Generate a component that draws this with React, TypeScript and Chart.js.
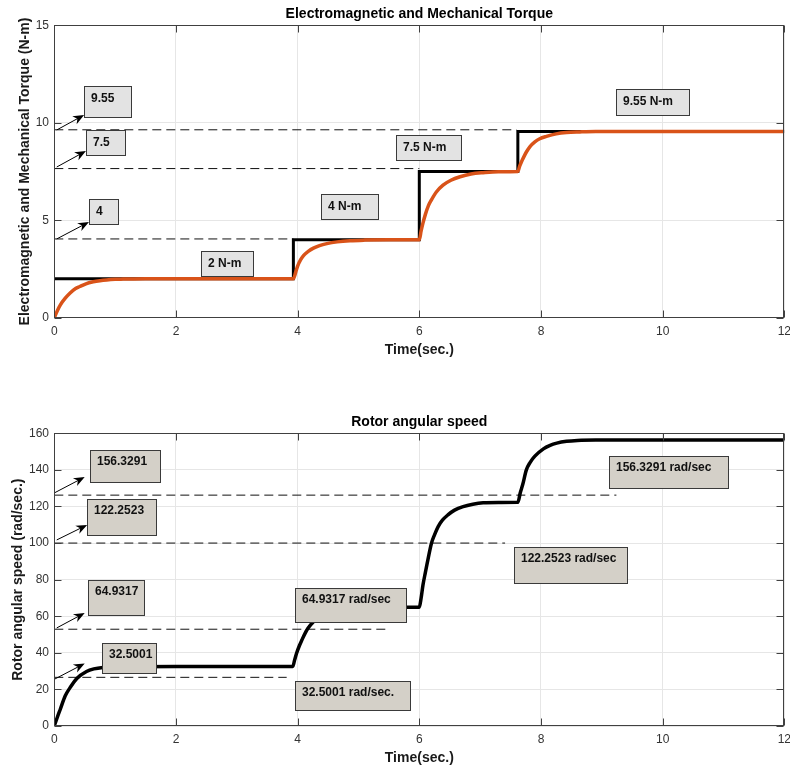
import React, { useEffect, useRef } from "react";
import { Chart, registerables } from "chart.js";

Chart.register(...registerables);

// ---------------- data ----------------
const timeTicks = [0, 2, 4, 6, 8, 10, 12];
const torqueTicks = [0, 5, 10, 15];
const speedTicks = [0, 20, 40, 60, 80, 100, 120, 140, 160];

// mechanical (load) torque, step profile
const mechTime = [0, 3.93, 3.93, 6.0, 6.0, 7.62, 7.62, 12];
const mechTorque = [2, 2, 4, 4, 7.5, 7.5, 9.55, 9.55];

// electromagnetic torque
const emTime = [
  0, 0.05, 0.1, 0.18, 0.26, 0.35, 0.42, 0.52, 0.64, 0.75, 0.86, 1.0, 1.13, 1.5, 2.5, 3.93,
  3.97, 4.0, 4.05, 4.1, 4.18, 4.26, 4.36, 4.48, 4.65, 4.86, 5.1, 5.5, 6.0,
  6.03, 6.06, 6.1, 6.15, 6.2, 6.28, 6.39, 6.52, 6.67, 6.85, 7.05, 7.3, 7.62,
  7.65, 7.68, 7.71, 7.76, 7.82, 7.9, 7.98, 8.09, 8.25, 8.42, 8.64, 8.9, 12,
];
const emTorque = [
  0, 0.36, 0.66, 1.0, 1.27, 1.5, 1.6, 1.74, 1.84, 1.9, 1.94, 1.97, 1.98, 2.0, 2.0, 2.0,
  2.35, 2.65, 2.98, 3.2, 3.42, 3.57, 3.7, 3.8, 3.89, 3.95, 3.98, 4.0, 4.0,
  4.45, 4.85, 5.3, 5.75, 6.05, 6.45, 6.8, 7.05, 7.23, 7.37, 7.44, 7.49, 7.5,
  7.78, 8.0, 8.2, 8.5, 8.78, 9.02, 9.18, 9.3, 9.43, 9.5, 9.53, 9.55, 9.55,
];

// rotor angular speed
const speedTime = [
  0, 0.05, 0.1, 0.18, 0.26, 0.37, 0.53, 0.65, 0.8, 1.0, 1.3, 2.0, 3.92,
  3.95, 3.98, 4.03, 4.07, 4.12, 4.17, 4.26, 4.36, 4.5, 4.7, 5.0, 5.5, 6.0,
  6.03, 6.06, 6.1, 6.13, 6.2, 6.25, 6.31, 6.38, 6.47, 6.58, 6.72, 6.88, 7.05, 7.3, 7.62,
  7.66, 7.7, 7.76, 7.82, 7.9, 8.04, 8.15, 8.26, 8.42, 8.6, 8.9, 12,
];
const speedValue = [
  0, 4.8, 9.3, 16.5, 21, 26, 29.8, 31.2, 32, 32.3, 32.45, 32.5, 32.5,
  36, 39.5, 44, 47, 50.5, 53.4, 57, 59.8, 62.3, 64, 64.8, 64.93, 64.93,
  70, 77, 84, 89, 99.9, 104.5, 109, 112.5, 115.4, 118, 119.9, 121.2, 122, 122.2, 122.25,
  127.5, 132, 140, 144, 147.5, 151.5, 153.4, 154.6, 155.6, 156.1, 156.3, 156.33,
];

// dashed reference lines (level, end time)
const torqueRefLevel = [9.64, 7.65, 4.04];
const torqueRefEnd = [7.6, 6.0, 3.93];
const speedRefLevel = [126.2, 100, 52.9, 26.6];
const speedRefEnd = [9.24, 7.41, 5.48, 3.82];

// annotation arrows (data coords)
const torqueArrowT0 = [0.04, 0.04, 0.04];
const torqueArrowV0 = [9.63, 7.73, 4.04];
const torqueArrowT1 = [0.49, 0.52, 0.57];
const torqueArrowV1 = [10.4, 8.55, 4.91];

const speedArrowT0 = [0.0, 0.04, 0.04, 0.01];
const speedArrowV0 = [127.4, 101.7, 53.6, 25.7];
const speedArrowT1 = [0.5, 0.54, 0.5, 0.5];
const speedArrowV1 = [136.1, 109.9, 61.8, 34.2];

// annotation text boxes (data coords: left, right, top, bottom)
const torqueBoxText = ["9.55", "7.5", "4", "2 N-m", "4 N-m", "7.5 N-m", "9.55 N-m"];
const torqueBoxT0 = [0.49, 0.52, 0.57, 2.41, 4.38, 5.62, 9.23];
const torqueBoxT1 = [1.26, 1.16, 1.05, 3.27, 5.32, 6.68, 10.43];
const torqueBoxVTop = [11.88, 9.63, 6.09, 3.42, 6.34, 9.37, 11.72];
const torqueBoxVBot = [10.29, 8.34, 4.81, 2.14, 5.06, 8.09, 10.4];

const speedBoxText = [
  "156.3291", "122.2523", "64.9317", "32.5001",
  "64.9317 rad/sec", "32.5001 rad/sec.", "122.2523 rad/sec", "156.3291 rad/sec",
];
const speedBoxT0 = [0.587, 0.54, 0.554, 0.784, 3.955, 3.955, 7.555, 9.116];
const speedBoxT1 = [1.74, 1.67, 1.474, 1.671, 5.775, 5.846, 9.41, 11.07];
const speedBoxVTop = [150.9, 124.1, 79.8, 45.4, 75.5, 24.6, 97.9, 147.6];
const speedBoxVBot = [133.4, 104.4, 60.7, 29.0, 56.9, 8.8, 78.2, 130.1];

// ---------------- helpers ----------------
const FONT = "'Liberation Sans', Arial, Helvetica, sans-serif";

const pts = (xs: number[], ys: number[]) => xs.map((x, i) => ({ x, y: ys[i] }));

function annotationPlugin(spec: {
  boxText: string[]; boxT0: number[]; boxT1: number[]; boxVTop: number[]; boxVBot: number[];
  arrT0: number[]; arrV0: number[]; arrT1: number[]; arrV1: number[];
  boxFill: string; textOffset: number; xTicks: number[]; yTicks: number[];
}) {
  return {
    id: "matlabAnnotations",
    afterDatasetsDraw(chart: any) {
      const { ctx } = chart;
      const xs = chart.scales.x;
      const ys = chart.scales.y;
      ctx.save();
      // arrows
      spec.arrT0.forEach((_, i) => {
        const x0 = xs.getPixelForValue(spec.arrT0[i]);
        const y0 = ys.getPixelForValue(spec.arrV0[i]);
        const x1 = xs.getPixelForValue(spec.arrT1[i]);
        const y1 = ys.getPixelForValue(spec.arrV1[i]);
        const ang = Math.atan2(y1 - y0, x1 - x0);
        const hl = 11, hw = 4.5;
        ctx.strokeStyle = "#000";
        ctx.lineWidth = 1;
        ctx.beginPath();
        ctx.moveTo(x0, y0);
        ctx.lineTo(x1 - Math.cos(ang) * hl * 0.6, y1 - Math.sin(ang) * hl * 0.6);
        ctx.stroke();
        ctx.fillStyle = "#000";
        ctx.beginPath();
        ctx.moveTo(x1, y1);
        const bx = x1 - Math.cos(ang) * hl, by = y1 - Math.sin(ang) * hl;
        ctx.lineTo(bx + Math.sin(ang) * hw, by - Math.cos(ang) * hw);
        ctx.lineTo(x1 - Math.cos(ang) * hl * 0.7, y1 - Math.sin(ang) * hl * 0.7);
        ctx.lineTo(bx - Math.sin(ang) * hw, by + Math.cos(ang) * hw);
        ctx.closePath();
        ctx.fill();
      });
      // boxes
      spec.boxText.forEach((txt, i) => {
        const l = Math.round(xs.getPixelForValue(spec.boxT0[i])) + 0.5;
        const r = Math.round(xs.getPixelForValue(spec.boxT1[i])) + 0.5;
        const t = Math.round(ys.getPixelForValue(spec.boxVTop[i])) + 0.5;
        const b = Math.round(ys.getPixelForValue(spec.boxVBot[i])) + 0.5;
        ctx.fillStyle = spec.boxFill;
        ctx.fillRect(l, t, r - l, b - t);
        ctx.strokeStyle = "#3a3a3a";
        ctx.lineWidth = 1;
        ctx.strokeRect(l, t, r - l, b - t);
        ctx.fillStyle = "#111";
        ctx.font = `bold 12px ${FONT}`;
        ctx.textAlign = "left";
        ctx.textBaseline = "middle";
        ctx.fillText(txt, l + 6.5, t + spec.textOffset);
      });
      ctx.restore();
    },
    afterDraw(chart: any) {
      const { ctx, chartArea: a } = chart;
      const xs = chart.scales.x;
      const ys = chart.scales.y;
      ctx.save();
      ctx.strokeStyle = "#404040";
      ctx.lineWidth = 1;
      const L = Math.round(a.left) + 0.5, R = Math.round(a.right) - 0.5;
      const T = Math.round(a.top) + 0.5, B = Math.round(a.bottom) - 0.5;
      ctx.strokeRect(L, T, R - L, B - T);
      const tl = 7;
      ctx.beginPath();
      spec.xTicks.forEach((v) => {
        const px = Math.round(xs.getPixelForValue(v)) + 0.5;
        ctx.moveTo(px, B); ctx.lineTo(px, B - tl);
        ctx.moveTo(px, T); ctx.lineTo(px, T + tl);
      });
      spec.yTicks.forEach((v) => {
        const py = Math.round(ys.getPixelForValue(v)) + 0.5;
        ctx.moveTo(L, py); ctx.lineTo(L + tl, py);
        ctx.moveTo(R, py); ctx.lineTo(R - tl, py);
      });
      ctx.stroke();
      ctx.restore();
    },
  };
}

function baseOptions(p: {
  title: string; titlePadTop: number; titlePadBottom: number;
  yMax: number; yTicks: number[]; yTitle: string; yTitlePad: number;
  xHeight: number; xTitlePadBottom: number;
}) {
  return {
    responsive: false,
    animation: false,
    layout: { padding: 0 },
    plugins: {
      legend: { display: false },
      tooltip: { enabled: false },
      title: {
        display: true,
        text: p.title,
        fullSize: false,
        color: "#000",
        font: { family: FONT, size: 14, weight: "bold" },
        padding: { top: p.titlePadTop, bottom: p.titlePadBottom },
      },
    },
    scales: {
      x: {
        type: "linear",
        min: 0,
        max: 12,
        afterBuildTicks: (s: any) => { s.ticks = timeTicks.map((v) => ({ value: v })); },
        grid: { color: "#e6e6e6", drawTicks: false, lineWidth: 1 },
        border: { display: false },
        ticks: { padding: 6.8, color: "#333", font: { family: FONT, size: 12 }, maxRotation: 0, autoSkip: false },
        title: {
          display: true, text: "Time(sec.)", color: "#1a1a1a",
          font: { family: FONT, size: 14, weight: "bold" },
          padding: { top: 0, bottom: p.xTitlePadBottom },
        },
        afterFit: (s: any) => { s.height = p.xHeight; s.paddingRight = 5.7; s.paddingLeft = 0; },
      },
      y: {
        type: "linear",
        min: 0,
        max: p.yMax,
        afterBuildTicks: (s: any) => { s.ticks = p.yTicks.map((v) => ({ value: v })); },
        grid: { color: "#e6e6e6", drawTicks: false, lineWidth: 1 },
        border: { display: false },
        ticks: { padding: 5.3, color: "#333", font: { family: FONT, size: 12 }, autoSkip: false },
        title: {
          display: true, text: p.yTitle, color: "#1a1a1a",
          font: { family: FONT, size: 14, weight: "bold" },
          padding: { top: p.yTitlePad, bottom: 0 },
        },
        afterFit: (s: any) => { s.width = 54.3; s.paddingTop = 0; s.paddingBottom = 0; },
      },
    },
  };
}

const dashedSet = (level: number, end: number) => ({
  data: [{ x: 0, y: level }, { x: end, y: level }],
  borderColor: "#111",
  borderWidth: 1,
  borderDash: [9, 5],
  pointRadius: 0,
  tension: 0,
});

export default function App() {
  const topRef = useRef<HTMLCanvasElement | null>(null);
  const botRef = useRef<HTMLCanvasElement | null>(null);

  useEffect(() => {
    const top = new Chart(topRef.current as HTMLCanvasElement, {
      type: "line",
      data: {
        datasets: [
          {
            data: pts(emTime, emTorque),
            borderColor: "#D95319",
            borderWidth: 3.5,
            pointRadius: 0,
            cubicInterpolationMode: "monotone",
          },
          {
            data: pts(mechTime, mechTorque),
            borderColor: "#000",
            borderWidth: 3,
            pointRadius: 0,
            tension: 0,
          },
          ...torqueRefLevel.map((lv, i) => dashedSet(lv, torqueRefEnd[i])),
        ] as any,
      },
      options: baseOptions({
        title: "Electromagnetic and Mechanical Torque",
        titlePadTop: 5.6, titlePadBottom: 2.9,
        yMax: 15, yTicks: torqueTicks,
        yTitle: "Electromagnetic and Mechanical Torque (N-m)", yTitlePad: 16.6,
        xHeight: 44.3, xTitlePadBottom: 3.6,
      }) as any,
      plugins: [
        annotationPlugin({
          boxText: torqueBoxText, boxT0: torqueBoxT0, boxT1: torqueBoxT1,
          boxVTop: torqueBoxVTop, boxVBot: torqueBoxVBot,
          arrT0: torqueArrowT0, arrV0: torqueArrowV0, arrT1: torqueArrowT1, arrV1: torqueArrowV1,
          boxFill: "#e3e3e3", textOffset: 12.5, xTicks: timeTicks, yTicks: torqueTicks,
        }),
      ],
    });

    const bot = new Chart(botRef.current as HTMLCanvasElement, {
      type: "line",
      data: {
        datasets: [
          {
            data: pts(speedTime, speedValue),
            borderColor: "#000",
            borderWidth: 3.5,
            pointRadius: 0,
            cubicInterpolationMode: "monotone",
          },
          ...speedRefLevel.map((lv, i) => dashedSet(lv, speedRefEnd[i])),
        ] as any,
      },
      options: baseOptions({
        title: "Rotor angular speed",
        titlePadTop: 33.3, titlePadBottom: 3.2,
        yMax: 160, yTicks: speedTicks,
        yTitle: "Rotor angular speed (rad/sec.)", yTitlePad: 9.6,
        xHeight: 42, xTitlePadBottom: 1.3,
      }) as any,
      plugins: [
        annotationPlugin({
          boxText: speedBoxText, boxT0: speedBoxT0, boxT1: speedBoxT1,
          boxVTop: speedBoxVTop, boxVBot: speedBoxVBot,
          arrT0: speedArrowT0, arrV0: speedArrowV0, arrT1: speedArrowT1, arrV1: speedArrowV1,
          boxFill: "#d4d0c8", textOffset: 11.5, xTicks: timeTicks, yTicks: speedTicks,
        }),
      ],
    });

    return () => {
      top.destroy();
      bot.destroy();
    };
  }, []);

  return (
    <div style={{ position: "absolute", left: 0, top: 0, width: 790, height: 768, background: "#fff" }}>
      <canvas
        ref={topRef}
        width={790}
        height={362}
        style={{ position: "absolute", left: 0, top: 0, width: 790, height: 362 }}
      />
      <canvas
        ref={botRef}
        width={790}
        height={388}
        style={{ position: "absolute", left: 0, top: 380, width: 790, height: 388 }}
      />
    </div>
  );
}
